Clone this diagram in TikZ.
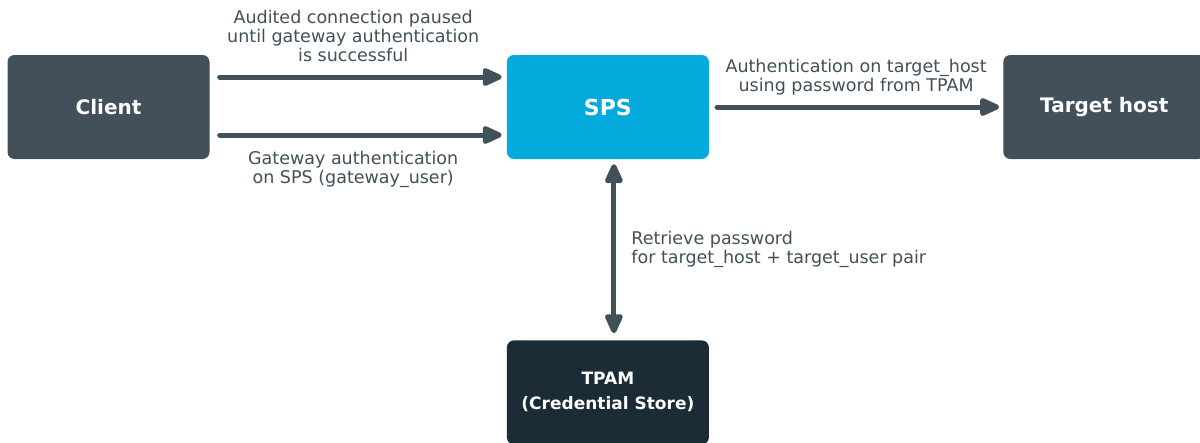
\documentclass[tikz,border=0pt]{standalone}
\usepackage{fontspec}
\setmainfont{DejaVu Sans}
\usepackage{tikz}
\usetikzlibrary{arrows.meta, positioning}

\definecolor{slate}{HTML}{415059}
\definecolor{spsblue}{HTML}{04AADB}
\definecolor{navy}{HTML}{1B2C36}

\begin{document}
\begin{tikzpicture}[
  x=1pt, y=-1pt,
  node distance=181pt and 297pt,
  box/.style={rectangle, rounded corners=7pt, minimum width=202pt, minimum height=104pt,
             align=center, text=white, inner sep=0pt,
             font=\fontsize{20}{24}\selectfont\bfseries},
  hostbox/.style={box, fill=slate},
  spsbox/.style={box, fill=spsblue, font=\fontsize{22}{24}\selectfont\bfseries},
  storebox/.style={box, fill=navy, font=\fontsize{17}{25}\selectfont\bfseries},
  lbl/.style={text=slate, align=center, inner sep=0pt,
             font=\fontsize{17.5}{19}\selectfont},
  arrow/.style={-{Triangle[length=23pt, width=19pt, round]}, line width=5pt,
             color=slate, line cap=round}
]
\useasboundingbox (0,0) rectangle (1200,442);

\node[hostbox] (client) at (108.5,107) {Client};
\node[spsbox, right=of client] (sps) {SPS};
\node[hostbox, right=294pt of sps] (target) {Target host};
\node[storebox, below=of sps] (tpam) {TPAM\\(Credential Store)};

\draw[arrow, shorten <=10pt, shorten >=5pt] ([yshift=30pt]client.east) -- ([yshift=30pt]sps.west)
  node[lbl, midway, above=13pt, xshift=-5pt] (audited)
  {Audited connection paused\\until gateway authentication\\is successful};
\draw[arrow, shorten <=10pt, shorten >=5pt] ([yshift=-28pt]client.east) -- ([yshift=-28pt]sps.west)
  node[lbl, midway, below=14pt, xshift=-5pt] (gateway)
  {Gateway authentication\\on SPS (gateway\_user)};
\draw[arrow, shorten <=8pt, shorten >=4pt] (sps.east) -- (target.west)
  node[lbl, midway, above=9pt] (authtarget)
  {Authentication on target\_host\\using password from TPAM};
\draw[arrow, {Triangle[length=23pt, width=19pt, round]}-{Triangle[length=23pt, width=19pt, round]},
      shorten <=5pt, shorten >=7pt] ([xshift=6pt]sps.south) -- ([xshift=6pt]tpam.north)
  node[lbl, align=left, midway, right=15pt] (retrieve)
  {Retrieve password\\for target\_host + target\_user pair};

\end{tikzpicture}
\end{document}
